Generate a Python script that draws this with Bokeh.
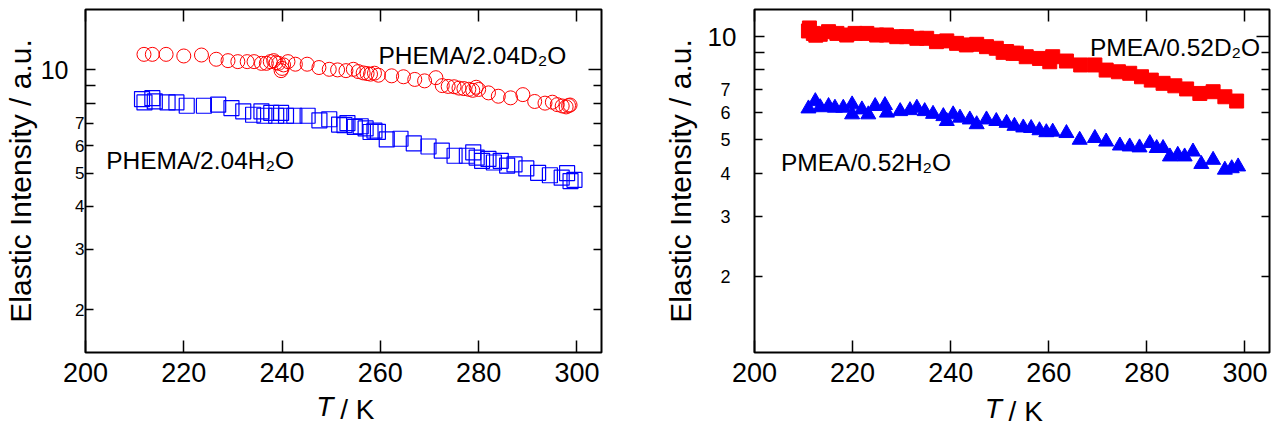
from bokeh.plotting import figure
from bokeh.models import Range1d, FixedTicker, LinearAxis, LogAxis
from bokeh.layouts import row
from bokeh.models import Label
from bokeh.embed import file_html
from bokeh.resources import INLINE

FONT = "Liberation Sans"

# ---------------- data ----------------
x_ticks = [200, 220, 240, 260, 280, 300]
y_labeled = [2, 3, 4, 5, 6, 7]
y_unlabeled = [8, 9, 10]
y_big = [10]

# PHEMA / 2.04 D2O (open red circles)
t_phema_d2o = [211.9, 213.6, 216.4, 220.0, 223.6, 226.6, 229.0, 231.0, 232.9, 234.3,
               235.8, 236.8, 237.6, 238.3, 238.8, 239.3, 239.8, 240.0, 240.3, 241.2,
               242.7, 245.1, 247.5, 249.6, 251.3, 253.0, 254.5, 255.5, 256.5, 257.3,
               258.0, 258.8, 259.6, 262.3, 264.7, 267.0, 269.0, 271.3, 272.6, 273.8,
               275.0, 276.0, 277.0, 278.0, 278.8, 279.5, 280.0, 282.0, 284.0, 286.5,
               289.0, 291.4, 293.5, 295.0, 296.0, 297.0, 297.8, 298.3, 298.6]
i_phema_d2o = [11.1, 11.1, 11.1, 10.98, 11.05, 10.74, 10.64, 10.57, 10.57, 10.57,
               10.45, 10.45, 10.57, 10.64, 10.5, 10.45, 9.95, 10.1, 10.34, 10.57,
               10.39, 10.39, 10.16, 10.04, 10.0, 9.95, 10.04, 9.89, 9.8, 9.76,
               9.72, 9.78, 9.65, 9.61, 9.55, 9.38, 9.29, 9.49, 9.0, 8.95,
               8.93, 8.85, 8.82, 8.78, 8.72, 8.9, 8.77, 8.57, 8.38, 8.29,
               8.47, 8.09, 8.0, 8.05, 7.92, 7.85, 7.8, 7.87, 7.9]

# PHEMA / 2.04 H2O (open blue squares)
t_phema_h2o = [211.5, 212.0, 213.6, 214.1, 216.7, 218.5, 220.6, 224.1, 227.0, 229.7,
               232.1, 234.1, 235.8, 236.4, 237.8, 238.8, 239.8, 240.8, 242.5, 245.2,
               247.6, 249.6, 251.6, 252.7, 253.3, 254.8, 256.0, 257.0, 258.0, 258.8,
               259.5, 261.3, 264.1, 266.8, 269.8, 272.5, 275.1, 277.6, 278.9, 279.6,
               280.7, 282.0, 283.1, 284.5, 285.8, 287.3, 289.7, 292.1, 294.5, 296.9,
               298.0, 298.7, 299.5]
i_phema_h2o = [8.22, 8.04, 8.27, 8.09, 8.04, 8.04, 7.86, 7.86, 7.92, 7.74,
               7.57, 7.40, 7.57, 7.35, 7.49, 7.35, 7.49, 7.35, 7.35, 7.35,
               7.13, 7.18, 6.93, 6.9, 7.0, 6.82, 6.85, 6.75, 6.59, 6.65,
               6.6, 6.27, 6.3, 6.11, 5.98, 5.82, 5.62, 5.62, 5.75, 5.55,
               5.43, 5.5, 5.37, 5.43, 5.26, 5.3, 5.16, 5.01, 4.93, 4.85,
               5.0, 4.74, 4.78]

# PMEA / 0.52 D2O (filled red squares)
t_pmea_d2o = [211.0, 211.2, 212.0, 212.5, 213.4, 215.1, 216.8, 218.8, 220.5, 222.9,
              224.9, 226.9, 229.0, 231.0, 233.1, 235.1, 237.1, 239.2, 241.2, 243.2,
              245.3, 247.3, 249.3, 250.7, 251.4, 252.7, 253.4, 255.4, 258.1, 260.2,
              260.8, 263.6, 266.5, 269.4, 271.7, 274.2, 276.5, 278.9, 280.9, 283.3,
              285.7, 288.1, 290.8, 293.5, 295.9, 298.3]
i_pmea_d2o = [10.39, 10.6, 10.22, 10.1, 10.16, 10.34, 10.22, 10.11, 10.22, 10.22,
              10.11, 10.11, 10.0, 10.0, 9.89, 9.89, 9.67, 9.72, 9.56, 9.46,
              9.5, 9.35, 9.25, 9.0, 9.05, 8.94, 8.95, 8.74, 8.64, 8.45,
              8.74, 8.49, 8.27, 8.27, 7.99, 7.9, 7.82, 7.64, 7.47, 7.31,
              7.19, 7.04, 6.83, 6.91, 6.68, 6.49]

# PMEA / 0.52 H2O (filled blue triangles)
t_pmea_h2o = [211.0, 212.4, 213.4, 215.1, 216.4, 218.1, 219.9, 219.9, 221.9, 223.2,
              224.6, 226.6, 227.0, 229.7, 231.7, 233.1, 234.7, 236.4, 238.5, 239.2,
              240.5, 241.9, 243.9, 245.3, 247.3, 249.3, 251.4, 253.0, 254.8, 256.4,
              258.1, 259.5, 260.8, 263.6, 266.3, 269.4, 271.7, 274.5, 276.5, 278.5,
              280.6, 282.0, 283.3, 284.7, 286.3, 287.7, 289.4, 291.1, 293.5, 295.9,
              297.3, 298.6]
i_pmea_h2o = [6.17, 6.48, 6.22, 6.27, 6.2, 6.2, 6.34, 5.93, 6.13, 5.93,
              6.27, 6.31, 6.0, 6.06, 6.1, 6.2, 6.06, 5.95, 5.86, 5.67,
              5.93, 5.8, 5.73, 5.55, 5.73, 5.67, 5.6, 5.49, 5.43, 5.41,
              5.33, 5.26, 5.28, 5.23, 5.0, 5.06, 4.94, 4.81, 4.78, 4.75,
              4.89, 4.73, 4.73, 4.47, 4.52, 4.47, 4.62, 4.25, 4.37, 4.09,
              4.13, 4.18]

y_title = "Elastic Intensity / a.u."
x_title_t = "T"
x_title_k = "/ K"
x_title_t_pos = 248.7
x_title_k_pos = 255.3


def base_axis(ax):
    ax.axis_line_color = None
    ax.major_tick_out = 0
    ax.minor_tick_out = 0
    ax.major_tick_in = 0
    ax.minor_tick_in = 0
    ax.major_tick_line_color = "black"
    ax.minor_tick_line_color = "black"
    ax.major_tick_line_width = 1.5
    ax.minor_tick_line_width = 1.5
    ax.major_label_text_font = FONT
    ax.major_label_text_color = "black"


def silent_axis(ax):
    ax.major_label_text_color = None
    ax.major_label_text_font_size = "1px"
    ax.major_label_standoff = 0


def text_only_axis(ax, ticks, text, size, standoff, style="normal"):
    base_axis(ax)
    ax.ticker = FixedTicker(ticks=ticks)
    ax.major_tick_line_color = None
    ax.minor_tick_line_color = None
    ax.major_label_overrides = {ticks[0]: text}
    ax.major_label_text_font_size = size
    ax.major_label_text_font_style = style
    ax.major_label_standoff = standoff


def panel(width, mb_left, mb_right, mb_top, mb_bottom, ylo, yhi,
          small_size, small_standoff, ten_size, ten_standoff,
          title_size, title_standoff, t_standoff):
    p = figure(width=width, height=432, y_axis_type="log",
               x_range=Range1d(200, 305), y_range=Range1d(ylo, yhi),
               output_backend="svg", toolbar_location=None,
               min_border_left=mb_left, min_border_right=mb_right,
               min_border_top=mb_top, min_border_bottom=mb_bottom)
    p.xgrid.visible = False
    p.ygrid.visible = False
    p.outline_line_color = "black"
    p.outline_line_width = 2
    p.outline_line_alpha = 1
    p.background_fill_color = "white"
    p.border_fill_color = "white"

    # bottom: numeric tick labels
    xa = p.xaxis[0]
    base_axis(xa)
    xa.ticker = FixedTicker(ticks=x_ticks)
    xa.major_tick_in = 12
    xa.major_label_text_font_size = "27px"
    xa.major_label_standoff = 10

    # bottom: italic T, then "/ K" on the same line
    t_ax = LinearAxis()
    text_only_axis(t_ax, [x_title_t_pos], x_title_t, "28px", t_standoff, "italic")
    p.add_layout(t_ax, "below")
    k_ax = LinearAxis()
    text_only_axis(k_ax, [x_title_k_pos], x_title_k, "28px", -31)
    p.add_layout(k_ax, "below")

    # left: small labels 2..7
    ya = p.yaxis[0]
    base_axis(ya)
    ya.ticker = FixedTicker(ticks=y_labeled, minor_ticks=y_unlabeled)
    ya.major_tick_in = 8
    ya.minor_tick_in = 10
    ya.major_label_text_font_size = small_size
    ya.major_label_standoff = small_standoff

    # left: big "10" label and the axis title
    ten = LogAxis()
    text_only_axis(ten, y_big, "10", ten_size, ten_standoff)
    ten.axis_label = y_title
    ten.axis_label_text_font = FONT
    ten.axis_label_text_font_size = title_size
    ten.axis_label_text_font_style = "normal"
    ten.axis_label_text_color = "black"
    ten.axis_label_standoff = title_standoff
    p.add_layout(ten, "left")

    # mirrored ticks on top and right
    top = LinearAxis()
    base_axis(top)
    top.ticker = FixedTicker(ticks=x_ticks)
    top.major_tick_in = 12
    silent_axis(top)
    p.add_layout(top, "above")
    right = LogAxis()
    base_axis(right)
    right.ticker = FixedTicker(ticks=y_labeled + [8, 9], minor_ticks=y_big)
    right.major_tick_in = 8
    right.minor_tick_in = 13
    silent_axis(right)
    p.add_layout(right, "right")
    return p


def tag(p, x, y, text):
    p.add_layout(Label(x=x, y=y, text=text, text_align="left",
                       text_baseline="alphabetic", text_font=FONT,
                       text_font_size="24.5px", text_color="black"))


# ---------- left panel ----------
p1 = panel(640, 84, 39, 9, 78, 1.5, 15, "17px", 1, "25px", 4, "30px", 1, 6)
p1.scatter(t_phema_d2o, i_phema_d2o, marker="circle", size=14,
           fill_color=None, line_color="#ff0000", line_width=1)
p1.scatter(t_phema_h2o, i_phema_h2o, marker="square", size=15,
           fill_color=None, line_color="#0000ff", line_width=1.2)
tag(p1, 259.6, 11.02, "PHEMA/2.04D\u2082O")
tag(p1, 204.2, 5.43, "PHEMA/2.04H\u2082O")

# ---------- right panel ----------
p2 = panel(638, 114, 9, 8, 80, 1.2, 12, "18px", 24, "26px", -19, "30px", 8, 8)
p2.scatter(t_pmea_d2o, i_pmea_d2o, marker="square", size=14,
           fill_color="#ff0000", line_color="#ff0000", line_width=1)
p2.scatter(t_pmea_h2o, i_pmea_h2o, marker="triangle", size=15,
           fill_color="#0000ff", line_color="#0000ff", line_width=1)
tag(p2, 268.4, 9.31, "PMEA/0.52D\u2082O")
tag(p2, 205.4, 4.31, "PMEA/0.52H\u2082O")

layout = row(p1, p2)
open("out.html", "w").write(file_html(layout, INLINE))
